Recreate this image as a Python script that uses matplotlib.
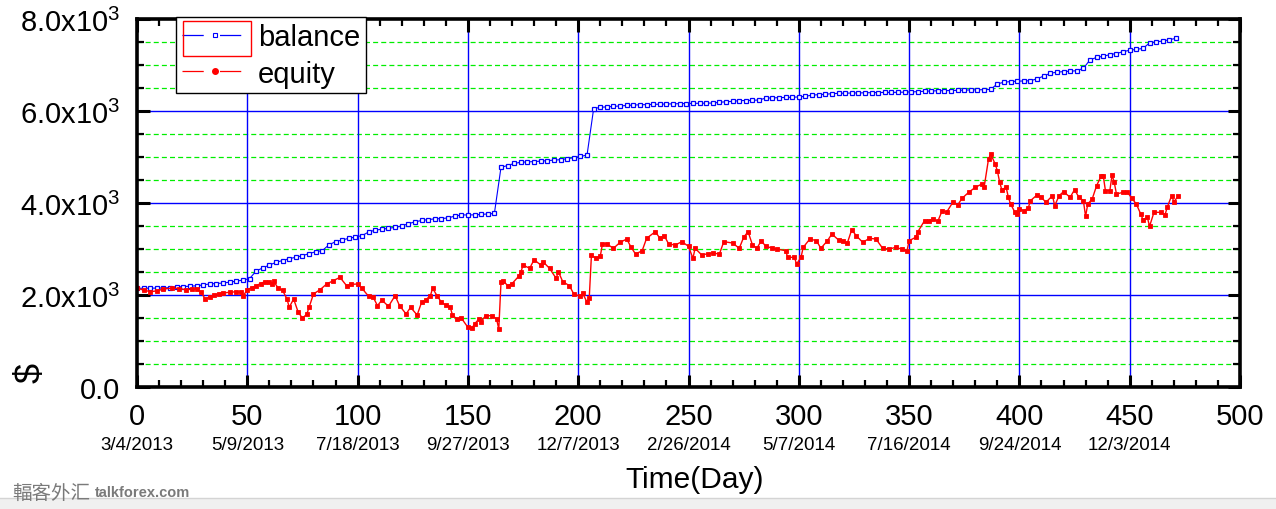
import matplotlib
matplotlib.use("Agg")
import matplotlib.pyplot as plt
from matplotlib.lines import Line2D
from matplotlib.patches import Rectangle
from matplotlib.ticker import MultipleLocator, FixedLocator

plt.rcParams['font.family'] = ['Liberation Sans', 'DejaVu Sans']
plt.rcParams['mathtext.fontset'] = 'custom'
plt.rcParams['mathtext.rm'] = 'Liberation Sans'
plt.rcParams['mathtext.it'] = 'Liberation Sans'

# ---------------- data ----------------
balance_days = list(range(0, 472, 3))
balance_vals = [
    2145, 2147, 2148, 2150, 2152, 2163, 2175, 2183, 2192, 2200,
    2220, 2240, 2250, 2260, 2280, 2300, 2325, 2355, 2520, 2590,
    2650, 2710, 2750, 2790, 2820, 2855, 2900, 2940, 2965, 3090,
    3160, 3195, 3232, 3260, 3290, 3370, 3410, 3430, 3450, 3470,
    3500, 3550, 3590, 3620, 3640, 3655, 3662, 3675, 3715, 3740,
    3740, 3742, 3752, 3762, 3772, 4775, 4815, 4860, 4886, 4893,
    4900, 4910, 4920, 4930, 4942, 4963, 4985, 5014, 5040, 6050,
    6080, 6090, 6101, 6111, 6120, 6130, 6135, 6139, 6143, 6148,
    6152, 6155, 6159, 6163, 6166, 6168, 6170, 6173, 6190, 6200,
    6210, 6225, 6228, 6232, 6240, 6280, 6285, 6290, 6295, 6300,
    6305, 6320, 6345, 6355, 6365, 6375, 6385, 6388, 6392, 6395,
    6398, 6400, 6402, 6404, 6405, 6406, 6410, 6415, 6420, 6430,
    6436, 6440, 6442, 6445, 6450, 6455, 6458, 6460, 6463, 6470,
    6590, 6625, 6640, 6648, 6652, 6658, 6700, 6760, 6820, 6845,
    6855, 6865, 6876, 6928, 7110, 7166, 7190, 7225, 7250, 7290,
    7320, 7340, 7360, 7480, 7505, 7520, 7550, 7580,
]

equity_days = [
    0, 3, 6, 9, 12, 16, 19, 22, 25, 27, 29, 31, 33, 35, 37, 39, 42, 45, 47, 48,
    50, 52, 54, 56, 58, 60, 61, 62, 64, 66, 68, 69, 71, 73, 75, 77, 78, 80, 83, 86,
    89, 92, 95, 97, 100, 102, 105, 107, 109, 111, 114, 117, 119, 122, 124, 127, 129, 131, 133, 134,
    136, 138, 140, 142, 143, 145, 147, 150, 152, 153, 155, 156, 158, 161, 163, 164, 165, 166, 168, 170,
    173, 174, 175, 178, 180, 183, 184, 187, 190, 191, 193, 196, 198, 201, 202, 204, 205, 206, 208, 210,
    211, 213, 216, 219, 222, 224, 226, 229, 231, 235, 237, 239, 241, 244, 247, 250, 252, 253, 256, 259,
    261, 264, 266, 270, 273, 275, 277, 279, 281, 283, 285, 288, 290, 294, 295, 298, 299, 301, 302, 305,
    308, 310, 313, 315, 318, 320, 322, 324, 326, 329, 332, 335, 338, 341, 344, 347, 349, 350, 353, 354,
    357, 359, 361, 363, 365, 367, 370, 372, 374, 377, 380, 383, 384, 386, 387, 389, 390, 391, 392, 394,
    395, 396, 398, 399, 400, 402, 404, 405, 408, 410, 412, 415, 416, 418, 420, 423, 425, 427, 429, 430,
    431, 433, 435, 437, 438, 439, 441, 442, 443, 444, 447, 449, 451, 453, 455, 456, 458, 459, 461, 464,
    466, 467, 469, 470, 472,
]
equity_vals = [
    2145, 2110, 2070, 2090, 2130, 2150, 2140, 2116, 2125, 2130, 2058, 1913, 1960, 2000, 2030, 2043, 2060, 2070, 2060, 1970,
    2116, 2160, 2200, 2250, 2290, 2280, 2240, 2300, 2145, 2100, 1913, 1732, 1913, 1637, 1493, 1587, 1732, 2022, 2116, 2240,
    2311, 2384, 2203, 2230, 2240, 2145, 1970, 1960, 1768, 1890, 1753, 1986, 1768, 1587, 1732, 1565, 1840, 1900, 1986, 2145,
    1986, 1840, 1780, 1732, 1565, 1478, 1500, 1297, 1290, 1370, 1478, 1420, 1550, 1550, 1478, 1260, 2275, 2311, 2203, 2246,
    2406, 2493, 2652, 2580, 2768, 2652, 2725, 2580, 2362, 2507, 2290, 2203, 2022, 1970, 2043, 1840, 1930, 2870, 2797, 2840,
    3109, 3109, 3015, 3145, 3217, 3036, 2890, 2963, 3232, 3377, 3232, 3290, 3109, 3087, 3159, 3058, 2797, 3015, 2870, 2900,
    2913, 2890, 3159, 3130, 3015, 3254, 3377, 3087, 3015, 3181, 3058, 3020, 3000, 2963, 2819, 2819, 2673, 2819, 3036, 3217,
    3181, 3015, 3181, 3326, 3196, 3181, 3130, 3420, 3290, 3145, 3232, 3217, 3015, 3000, 3036, 2990, 2950, 3181, 3254, 3377,
    3616, 3616, 3652, 3600, 3833, 3800, 4029, 3956, 4101, 4232, 4340, 4413, 4340, 4956, 5065, 4848, 4703, 4464, 4290, 4340,
    4123, 3978, 3797, 3760, 3870, 3833, 3888, 4050, 4174, 4123, 4014, 4159, 3942, 4159, 4246, 4123, 4290, 4123, 4050, 3710,
    3978, 4087, 4377, 4580, 4594, 4268, 4268, 4608, 4449, 4196, 4232, 4232, 4101, 3978, 3760, 3637, 3688, 3493, 3797, 3797,
    3739, 3906, 4159, 4029, 4145,
]

x_ticks = [0, 50, 100, 150, 200, 250, 300, 350, 400, 450, 500]
x_dates = ["3/4/2013", "5/9/2013", "7/18/2013", "9/27/2013", "12/7/2013",
           "2/26/2014", "5/7/2014", "7/16/2014", "9/24/2014", "12/3/2014", ""]
y_ticks = [0, 2000, 4000, 6000, 8000]
y_labels = ["0.0", r"$\mathregular{2.0x10^3}$", r"$\mathregular{4.0x10^3}$",
            r"$\mathregular{6.0x10^3}$", r"$\mathregular{8.0x10^3}$"]

# ---------------- figure ----------------
W, H = 1276, 510
fig = plt.figure(figsize=(W / 100, H / 100), dpi=100)
fig.patch.set_facecolor("white")
ax = fig.add_axes([137 / W, 1 - 388 / H, 1103 / W, 368 / H])

ax.set_xlim(0, 500)
ax.set_ylim(0, 8000)

# grid
for yv in range(500, 8000, 500):
    if yv % 2000 == 0:
        ax.axhline(yv, color="#0000ff", lw=1.0, zorder=1)
    else:
        ax.axhline(yv, color="#00ee00", lw=0.9, ls=(0, (4, 2.5)), zorder=1)
for xv in x_ticks[1:-1]:
    ax.axvline(xv, color="#0000ff", lw=1.0, zorder=1)

# series
ax.plot(balance_days, balance_vals, color="#0000ff", lw=0.8, marker="s",
        ms=3.4, mfc="white", mec="#0000ff", mew=0.9, zorder=3)
ax.plot(equity_days, equity_vals, color="#ff0000", lw=1.0, marker="s",
        ms=3.4, mfc="#ff0000", mec="#ff0000", mew=0.6, zorder=4)

# ticks
ax.xaxis.set_major_locator(FixedLocator(x_ticks))
ax.xaxis.set_minor_locator(MultipleLocator(10))
ax.yaxis.set_major_locator(FixedLocator(y_ticks))
ax.yaxis.set_minor_locator(MultipleLocator(500))
ax.set_xticklabels([str(v) for v in x_ticks])
ax.set_yticklabels(y_labels)
ax.tick_params(which="both", direction="in", top=True, right=True, colors="black")
ax.tick_params(which="major", length=9, width=2.2)
ax.tick_params(which="minor", length=5, width=1.6)
ax.tick_params(axis="x", which="major", labelsize=21, pad=11)
ax.tick_params(axis="y", which="major", labelsize=21, pad=12)
for s in ax.spines.values():
    s.set_linewidth(2.6)
    s.set_zorder(6)

# date labels under the numeric ticks
for xv, d in zip(x_ticks, x_dates):
    if d:
        ax.annotate(d, xy=(xv, 0), xycoords=("data", "axes fraction"),
                    xytext=(0, -35), textcoords="offset points",
                    ha="center", va="top", fontsize=13.5)

# axis labels
fig.text(695 / W, 1 - 480 / H, "Time(Day)", ha="center", va="center", fontsize=21.5)
fig.text(31 / W, 1 - 373 / H, "$", rotation=90, ha="center", va="center",
         fontsize=26)

# legend
h_bal = Line2D([], [], color="#0000ff", lw=0.9, ls=(0, (17, 13)), marker="s",
               ms=3.2, mfc="white", mec="#0000ff", mew=0.8)
h_eq = Line2D([], [], color="#ff0000", lw=0.9, ls=(0, (17, 13)), marker="o",
              ms=4, mfc="#ff0000", mec="#ff0000")
leg = ax.legend([h_bal, h_eq], ["balance", "equity"], loc="upper left",
                bbox_to_anchor=((176 - 137) / 1103, (388 - 18) / 368),
                fontsize=21, handlelength=2.3, handletextpad=0.3,
                borderpad=0.2, labelspacing=0.3, borderaxespad=0,
                fancybox=False, framealpha=1, edgecolor="black",
                markerscale=1.0)
leg.get_frame().set_linewidth(1.0)
leg.set_zorder(10)

# selection box around the first legend sample
fig.patches.append(Rectangle((183 / W, 1 - 57 / H), 68 / W, 35 / H,
                             transform=fig.transFigure, fill=False,
                             edgecolor="#ff0000", lw=1.0, zorder=20))

# watermark
fig.text(12 / W, 1 - 493 / H, "輻客外汇", family=["Noto Sans CJK SC", "DejaVu Sans"],
         fontsize=14, color="#7a7a7a", va="center", ha="left")
fig.text(95 / W, 1 - 493 / H, "talkforex.com", fontsize=10.5, fontweight="bold",
         color="#7a7a7a", va="center", ha="left")

# window frame strip at the bottom
fig.patches.append(Rectangle((0, 0), 1, 11 / H, transform=fig.transFigure,
                             facecolor="#f0f0f0", edgecolor="none", zorder=0))
fig.add_artist(Line2D([0, 1], [11 / H, 11 / H], transform=fig.transFigure,
                      color="#d4d4d4", lw=1))

fig.savefig("out.png", dpi=100)
